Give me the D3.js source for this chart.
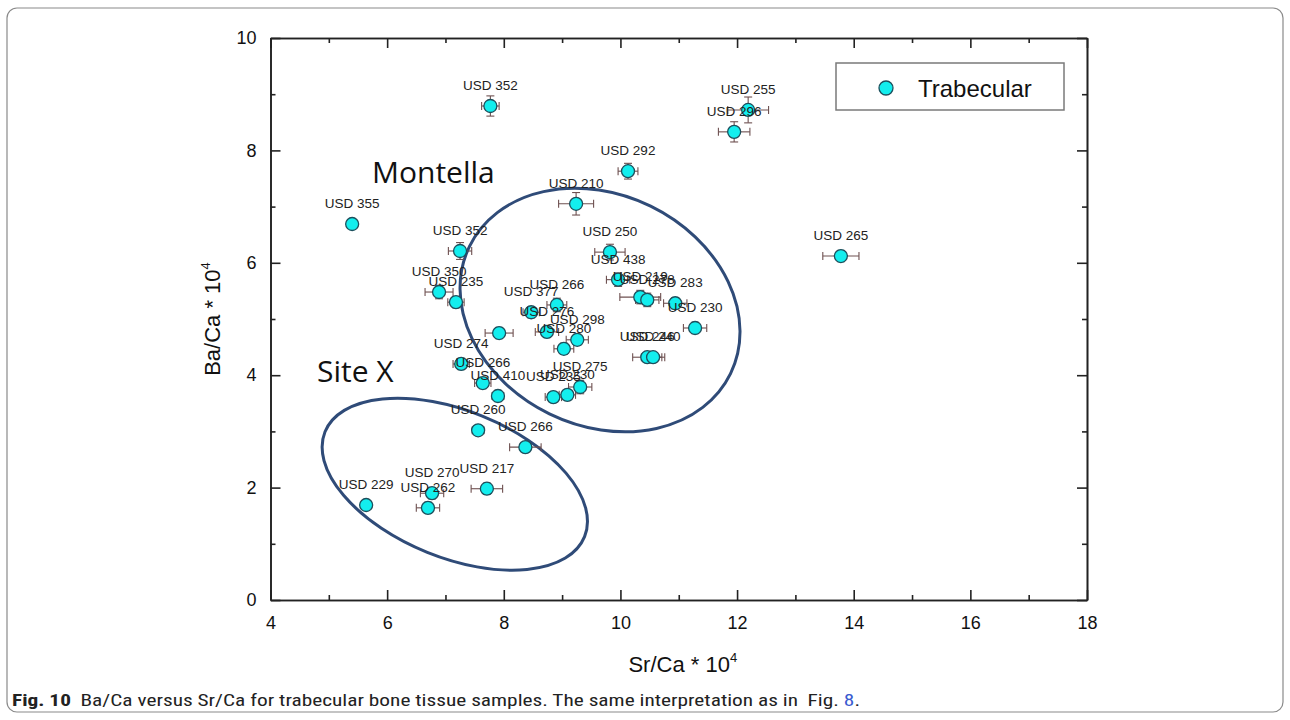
<!DOCTYPE html>
<html lang="en">
<head>
    <meta charset="UTF-8">
    <title>Ba/Ca versus Sr/Ca</title>
    <script src="https://d3js.org/d3.v7.min.js"></script>
    <style>
    html, body { margin: 0; background: #fff; }
    svg { display: block; }
    .axis text { font-family: "Liberation Sans", Arial, sans-serif; font-size: 18px; fill: #111; }
    .axis path, .axis line { stroke: #222; stroke-width: 1.6; }
    .lbl { font-family: "Liberation Sans", Arial, sans-serif; font-size: 13.5px; fill: #222; }
    </style>
</head>
<body>
<div id="chart"></div>
<script>
// sample names, Sr/Ca and Ba/Ca (x 10^4) with their errors
var names = ["USD 352", "USD 355", "USD 352", "USD 350", "USD 235", "USD 274", "USD 266", "USD 410",
             "USD 260", "USD 266", "USD 217", "USD 270", "USD 262", "USD 229", "USD 210", "USD 292",
             "USD 255", "USD 296", "USD 265", "USD 250", "USD 438", "USD 219", "USD 278", "USD 283",
             "USD 230", "USD 246", "USD 240", "USD 266", "USD 377", "USD 276", "USD 298", "USD 280",
             "USD 275", "USD 235", "USD 230", ""];
var srCa = [7.77, 5.40, 7.25, 6.89, 7.18, 7.27, 7.64, 7.90, 7.56, 8.37, 7.71, 6.77, 6.70, 5.64, 9.24, 10.13,
            12.19, 11.95, 13.78, 9.82, 9.96, 10.34, 10.46, 10.94, 11.28, 10.46, 10.56, 8.91, 8.47, 8.74, 9.26, 9.03,
            9.31, 8.85, 9.09, 7.92];
var baCa = [8.79, 6.69, 6.21, 5.48, 5.30, 4.20, 3.86, 3.63, 3.02, 2.72, 1.98, 1.90, 1.64, 1.69, 7.05, 7.63,
            8.72, 8.33, 6.12, 6.19, 5.70, 5.39, 5.34, 5.28, 4.84, 4.32, 4.32, 5.25, 5.12, 4.77, 4.63, 4.47,
            3.79, 3.61, 3.65, 4.75];
var srErr = [0.15, 0.05, 0.20, 0.24, 0.14, 0.14, 0.14, 0.10, 0.10, 0.27, 0.27, 0.20, 0.20, 0.08, 0.30, 0.17,
             0.35, 0.27, 0.31, 0.26, 0.20, 0.35, 0.20, 0.20, 0.20, 0.25, 0.20, 0.17, 0.14, 0.20, 0.19, 0.17,
             0.20, 0.14, 0.14, 0.24];
var baErr = [0.18, 0.05, 0.15, 0.12, 0.10, 0.10, 0.10, 0.10, 0.08, 0.08, 0.10, 0.10, 0.10, 0.06, 0.20, 0.14,
             0.23, 0.18, 0.10, 0.14, 0.12, 0.12, 0.12, 0.10, 0.10, 0.08, 0.08, 0.12, 0.10, 0.10, 0.10, 0.10,
             0.12, 0.08, 0.08, 0.10];

var xTicks = [4, 6, 8, 10, 12, 14, 16, 18];
var yTicks = [0, 2, 4, 6, 8, 10];

// grouping ellipses: centre in data units, semi-axes in Sr/Ca units, tilt in degrees
var groupNames = ["Montella", "Site X"];
var groupCx = [9.65, 7.16];
var groupCy = [5.16, 2.06];
var groupA = [2.49, 2.40];
var groupB = [1.98, 1.26];
var groupTilt = [26, 22];

var width = 1290, height = 720;
var svg = d3.select("#chart").append("svg")
    .attr("width", width)
    .attr("height", height);

// figure frame
svg.append("rect")
    .attr("x", 7).attr("y", 8)
    .attr("width", 1276).attr("height", 704)
    .attr("rx", 10)
    .attr("fill", "none")
    .attr("stroke", "#8a8a8a")
    .attr("stroke-width", 1.2);

var x = d3.scaleLinear().domain([4, 18]).range([270.5, 1087]);
var y = d3.scaleLinear().domain([0, 10]).range([600, 38]);

var minorX = d3.range(5, 18, 2);
var minorY = d3.range(1, 10, 2);

function axisGroup(ax, tx, ty) {
    return svg.append("g").attr("class", "axis")
        .attr("transform", "translate(" + tx + "," + ty + ")")
        .call(ax);
}

// major ticks, all pointing inward
axisGroup(d3.axisBottom(x).tickValues(xTicks).tickSize(-10).tickPadding(16).tickSizeOuter(0), 0, y(0));
axisGroup(d3.axisTop(x).tickValues(xTicks).tickSize(-10).tickFormat("").tickSizeOuter(0), 0, y(10));
axisGroup(d3.axisLeft(y).tickValues(yTicks).tickSize(-10).tickPadding(14).tickSizeOuter(0), x(4), 0);
axisGroup(d3.axisRight(y).tickValues(yTicks).tickSize(-10).tickFormat("").tickSizeOuter(0), x(18), 0);
// minor ticks
axisGroup(d3.axisBottom(x).tickValues(minorX).tickSize(-5).tickFormat("").tickSizeOuter(0), 0, y(0));
axisGroup(d3.axisTop(x).tickValues(minorX).tickSize(-5).tickFormat("").tickSizeOuter(0), 0, y(10));
axisGroup(d3.axisLeft(y).tickValues(minorY).tickSize(-5).tickFormat("").tickSizeOuter(0), x(4), 0);
axisGroup(d3.axisRight(y).tickValues(minorY).tickSize(-5).tickFormat("").tickSizeOuter(0), x(18), 0);

// axis titles
var xt = svg.append("text")
    .attr("x", (x(4) + x(18)) / 2 + 4)
    .attr("y", 672)
    .attr("text-anchor", "middle")
    .style("font-family", "Liberation Sans, Arial, sans-serif")
    .style("font-size", "22px")
    .attr("fill", "#111");
xt.append("tspan").text("Sr/Ca * 10");
xt.append("tspan").attr("dy", -10).style("font-size", "13px").text("4");

var yt = svg.append("text")
    .attr("transform", "translate(220," + ((y(0) + y(10)) / 2) + ") rotate(-90)")
    .attr("text-anchor", "middle")
    .style("font-family", "Liberation Sans, Arial, sans-serif")
    .style("font-size", "22px")
    .attr("fill", "#111");
yt.append("tspan").text("Ba/Ca * 10");
yt.append("tspan").attr("dy", -10).style("font-size", "13px").text("4");

// group ellipses
var groups = groupNames.map(function (n, i) {
    return { name: n, cx: groupCx[i], cy: groupCy[i], a: groupA[i], b: groupB[i], tilt: groupTilt[i] };
});
svg.selectAll(".grp")
    .data(groups)
    .enter()
    .append("ellipse")
    .attr("class", "grp")
    .attr("transform", function (d) {
        return "translate(" + x(d.cx) + "," + y(d.cy) + ") rotate(" + d.tilt + ")";
    })
    .attr("rx", function (d) { return x(4 + d.a) - x(4); })
    .attr("ry", function (d) { return x(4 + d.b) - x(4); })
    .attr("fill", "none")
    .attr("stroke", "#2f4b78")
    .attr("stroke-width", 3);

svg.append("text")
    .attr("x", 372).attr("y", 183)
    .style("font-family", "Open Sans, Noto Sans, sans-serif")
    .style("font-size", "30px")
    .attr("fill", "#111")
    .text("Montella");
svg.append("text")
    .attr("x", 317).attr("y", 382)
    .style("font-family", "Open Sans, Noto Sans, sans-serif")
    .style("font-size", "30px")
    .attr("fill", "#111")
    .text("Site X");

var pts = names.map(function (n, i) {
    return { name: n, sr: srCa[i], ba: baCa[i], se: srErr[i], be: baErr[i] };
});

// error bars
var eb = svg.append("g").attr("stroke", "#6e5050").attr("stroke-width", 1.1);
pts.forEach(function (d) {
    var cx = x(d.sr), cy = y(d.ba);
    var x0 = x(d.sr - d.se), x1 = x(d.sr + d.se);
    var y0 = y(d.ba - d.be), y1 = y(d.ba + d.be);
    eb.append("line").attr("x1", x0).attr("x2", x1).attr("y1", cy).attr("y2", cy);
    eb.append("line").attr("x1", x0).attr("x2", x0).attr("y1", cy - 4).attr("y2", cy + 4);
    eb.append("line").attr("x1", x1).attr("x2", x1).attr("y1", cy - 4).attr("y2", cy + 4);
    eb.append("line").attr("x1", cx).attr("x2", cx).attr("y1", y0).attr("y2", y1);
    eb.append("line").attr("x1", cx - 4).attr("x2", cx + 4).attr("y1", y0).attr("y2", y0);
    eb.append("line").attr("x1", cx - 4).attr("x2", cx + 4).attr("y1", y1).attr("y2", y1);
});

svg.selectAll(".pt")
    .data(pts)
    .enter()
    .append("circle")
    .attr("class", "pt")
    .attr("cx", function (d) { return x(d.sr); })
    .attr("cy", function (d) { return y(d.ba); })
    .attr("r", 6.5)
    .attr("fill", "#13eeee")
    .attr("stroke", "#1d4f5c")
    .attr("stroke-width", 1.3);

svg.selectAll(".lbl")
    .data(pts.filter(function (d) { return d.name; }))
    .enter()
    .append("text")
    .attr("class", "lbl")
    .attr("x", function (d) { return x(d.sr); })
    .attr("y", function (d) { return y(d.ba) - 16; })
    .attr("text-anchor", "middle")
    .text(function (d) { return d.name; });

// legend
var lg = svg.append("g");
lg.append("rect")
    .attr("x", 836).attr("y", 63)
    .attr("width", 228).attr("height", 47)
    .attr("fill", "#fff")
    .attr("stroke", "#7a7a7a")
    .attr("stroke-width", 1.5);
lg.append("circle")
    .attr("cx", 886).attr("cy", 88).attr("r", 7)
    .attr("fill", "#13eeee")
    .attr("stroke", "#1d4f5c")
    .attr("stroke-width", 1.3);
lg.append("text")
    .attr("x", 918).attr("y", 97)
    .style("font-family", "Liberation Sans, Arial, sans-serif")
    .style("font-size", "24px")
    .attr("fill", "#111")
    .text("Trabecular");

// caption
var cap = svg.append("text")
    .attr("x", 12).attr("y", 706)
    .attr("textLength", 848)
    .attr("lengthAdjust", "spacingAndGlyphs")
    .style("font-family", "Roboto Condensed, Roboto, sans-serif")
    .style("font-size", "17px")
    .attr("fill", "#222");
cap.append("tspan").style("font-weight", "bold").text("Fig. 10");
cap.append("tspan").text("\u2002Ba/Ca versus Sr/Ca for trabecular bone tissue samples. The same interpretation as in\u2002Fig. ");
cap.append("tspan").attr("fill", "#3a5bd0").text("8");
cap.append("tspan").text(".");
</script>
</body>
</html>
